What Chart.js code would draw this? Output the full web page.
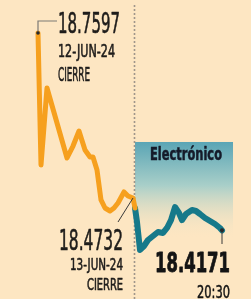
<!DOCTYPE html>
<html>
<head>
<meta charset="utf-8">
<script src="https://cdn.jsdelivr.net/npm/chart.js@4/dist/chart.umd.min.js"></script>
<style>
  html, body { margin: 0; padding: 0; background: #fde6c2; }
  canvas { display: block; }
</style>
</head>
<body>
<canvas id="chart" width="251" height="299"></canvas>
<script>
// step index along the timeline and peso-dollar rate
const timeClose = [0, 3, 9, 29, 35, 41, 47, 52, 55, 59, 63, 67, 72, 76, 80, 86, 90, 95, 97];
const rateClose = [18.7597, 18.5305, 18.6642, 18.5427, 18.5635, 18.5896, 18.5566, 18.5444, 18.5444, 18.5219,
  18.4698, 18.4559, 18.4507, 18.4559, 18.4646, 18.4837, 18.4767, 18.4732, 18.4559];

const timeElec = [97, 99, 102, 106, 110, 115, 120, 125, 129, 133, 137, 141, 144, 148, 154, 158, 162, 167, 172, 177, 182, 184];
const rateElec = [18.4559, 18.4316, 18.3830, 18.3899, 18.4003, 18.4073, 18.4142, 18.4125, 18.4212, 18.4350, 18.4576,
  18.4472, 18.4350, 18.4455, 18.4524, 18.4507, 18.4455, 18.4385, 18.4333, 18.4281, 18.4212, 18.4171];

const openLabel = ["18.7597", "12-JUN-24", "CIERRE"];
const closeLabel = ["18.4732", "13-JUN-24", "CIERRE"];
const lastLabel = ["18.4171", "20:30"];
const sessionLabel = "Electrónico";

const BG = "#fde6c2";
const FONT = "'Liberation Sans Narrow', 'DejaVu Sans Condensed', Roboto, sans-serif";

function toPoints(xs, ys) {
  return xs.map((x, i) => ({ x: x, y: ys[i] }));
}

// text squeezed to a given width, like the condensed face in the original
function fitText(ctx, txt, x, y, size, weight, width, align, thick) {
  ctx.save();
  ctx.font = weight + " " + size + "px " + FONT;
  const w = ctx.measureText(txt).width;
  const sx = width / w;
  const left = align === "right" ? x - width : x;
  ctx.translate(left, y);
  ctx.scale(sx, 1);
  ctx.textAlign = "left";
  ctx.textBaseline = "alphabetic";
  ctx.fillText(txt, 0, 0);
  if (thick) {
    ctx.strokeStyle = ctx.fillStyle;
    ctx.lineWidth = thick;
    ctx.lineJoin = "round";
    ctx.strokeText(txt, 0, 0);
  }
  ctx.restore();
}

const decor = {
  id: "decor",
  beforeDraw(chart) {
    const ctx = chart.ctx;
    ctx.save();
    ctx.fillStyle = BG;
    ctx.fillRect(0, 0, chart.width, chart.height);
    ctx.restore();
  },
  beforeDatasetsDraw(chart) {
    const ctx = chart.ctx;
    const xs = chart.scales.x, ys = chart.scales.y;

    // electronic session panel
    const bx0 = xs.getPixelForValue(97), bx1 = xs.getPixelForValue(195);
    const by0 = ys.getPixelForValue(18.5705), by1 = ys.getPixelForValue(18.4020);
    const g = ctx.createLinearGradient(0, by0, 0, by1);
    g.addColorStop(0, "#5aa5b5");
    g.addColorStop(0.45, "#a9cfc9");
    g.addColorStop(1, "rgba(253,230,194,0)");
    ctx.save();
    ctx.fillStyle = g;
    ctx.fillRect(bx0, by0, bx1 - bx0, by1 - by0);
    ctx.restore();

    // dotted divider between sessions
    const dx = Math.round(xs.getPixelForValue(96)) + 0.5;
    ctx.save();
    ctx.strokeStyle = "#a0968a";
    ctx.lineWidth = 1.6;
    ctx.setLineDash([2, 2]);
    ctx.beginPath();
    ctx.moveTo(dx, 5);
    ctx.lineTo(dx, chart.height);
    ctx.stroke();
    ctx.restore();
  },
  afterDatasetsDraw(chart) {
    const ctx = chart.ctx;
    const xs = chart.scales.x, ys = chart.scales.y;
    const first = { x: xs.getPixelForValue(timeClose[0]), y: ys.getPixelForValue(rateClose[0]) };
    const prev = { x: xs.getPixelForValue(timeClose[17]), y: ys.getPixelForValue(rateClose[17]) };
    const last = { x: xs.getPixelForValue(timeElec[timeElec.length - 1]), y: ys.getPixelForValue(rateElec[rateElec.length - 1]) };

    ctx.save();
    // leaders
    ctx.lineWidth = 1.2;
    ctx.strokeStyle = "#7d7a74";
    ctx.beginPath();
    ctx.moveTo(first.x, first.y);
    ctx.lineTo(first.x, 21);
    ctx.lineTo(57, 21);
    ctx.stroke();

    ctx.strokeStyle = "#3a3a3a";
    ctx.lineWidth = 1;
    ctx.beginPath();
    ctx.moveTo(prev.x, prev.y);
    ctx.lineTo(118, 222);
    ctx.stroke();

    ctx.beginPath();
    ctx.moveTo(last.x, last.y);
    ctx.lineTo(last.x, 244);
    ctx.stroke();

    // end dots
    ctx.fillStyle = "#2a2a2a";
    ctx.beginPath();
    ctx.arc(first.x, first.y, 1.8, 0, Math.PI * 2);
    ctx.fill();
    ctx.beginPath();
    ctx.arc(last.x, last.y, 2, 0, Math.PI * 2);
    ctx.fill();

    // labels
    ctx.fillStyle = "#1f1d1b";
    fitText(ctx, openLabel[0], 58, 33, 28, "normal", 62, "left", 0.6);
    fitText(ctx, openLabel[1], 58, 57, 18, "normal", 57, "left", 0.6);
    fitText(ctx, openLabel[2], 58, 81, 19, "normal", 32, "left", 0.6);

    fitText(ctx, closeLabel[0], 123, 250, 28, "normal", 64, "right", 0.6);
    fitText(ctx, closeLabel[1], 123, 270, 16, "normal", 53, "right", 0.6);
    fitText(ctx, closeLabel[2], 123, 290, 16, "normal", 36, "right", 0.6);

    ctx.fillStyle = "#141414";
    fitText(ctx, lastLabel[0], 230, 272, 26, "bold", 75, "right", 0.8);
    fitText(ctx, lastLabel[1], 230, 298, 18, "normal", 33, "right", 0.5);

    ctx.fillStyle = "#151b2a";
    fitText(ctx, sessionLabel, 150, 160, 17, "bold", 72, "left", 0.5);
    ctx.restore();
  }
};

new Chart(document.getElementById("chart"), {
  type: "line",
  data: {
    datasets: [
      {
        data: toPoints(timeClose, rateClose),
        borderColor: "#f6a01e",
        borderWidth: 5,
        pointRadius: 0,
        tension: 0,
        borderJoinStyle: "round",
        borderCapStyle: "round",
        clip: false
      },
      {
        data: toPoints(timeElec, rateElec),
        borderColor: "#16798a",
        borderWidth: 6,
        pointRadius: 0,
        tension: 0,
        borderJoinStyle: "round",
        borderCapStyle: "round",
        clip: false
      }
    ]
  },
  options: {
    responsive: false,
    animation: false,
    events: [],
    layout: { padding: 0 },
    plugins: { legend: { display: false }, tooltip: { enabled: false } },
    scales: {
      x: { type: "linear", display: false, min: -38, max: 213 },
      y: { type: "linear", display: false, min: 18.2979, max: 18.8170 }
    }
  },
  plugins: [decor]
});
</script>
</body>
</html>
